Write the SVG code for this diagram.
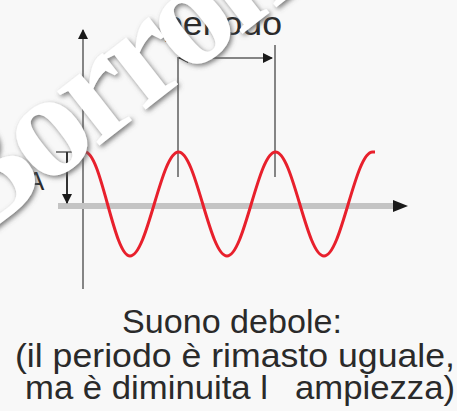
<svg xmlns="http://www.w3.org/2000/svg" width="457" height="411" viewBox="0 0 457 411">
<style>
.ax{stroke:#858585;stroke-width:2;fill:none}
.lbl{font-family:"Liberation Sans",Arial,sans-serif;fill:#2a2a2a}
.wm{font-family:"Liberation Serif","Times New Roman",serif;font-weight:bold;fill:#ffffff}
</style>
<defs>
<marker id="ah" viewBox="0 0 10 10" refX="9" refY="5" markerWidth="5" markerHeight="5" orient="auto-start-reverse" markerUnits="strokeWidth">
<path d="M0,0 L10,5 L0,10 z" fill="#1a1a1a"/>
</marker>
<filter id="sh" x="-20%" y="-20%" width="140%" height="140%">
<feGaussianBlur in="SourceAlpha" stdDeviation="2.5" result="b"/>
<feOffset in="b" dx="1.5" dy="1.5" result="o"/>
<feFlood flood-color="#606060" flood-opacity="0.85"/>
<feComposite in2="o" operator="in" result="s"/>
<feMerge><feMergeNode in="s"/><feMergeNode in="SourceGraphic"/></feMerge>
</filter>
</defs>
<rect width="457" height="411" fill="#f8f8f8"/>
<g id="connectors">
<line id="y-axis" class="ax" x1="83" y1="289" x2="83" y2="30" marker-end="url(#ah)"/>
<line id="x-axis" x1="58" y1="206" x2="400" y2="206" stroke="#c4c4c4" stroke-width="6"/>
<path d="M393,200 L408,206 L393,212 z" fill="#1a1a1a"/>
<line class="ax" x1="178" y1="57" x2="178" y2="177"/>
<line class="ax" x1="275" y1="45" x2="275" y2="177"/>
<line class="ax" x1="179" y1="58" x2="272" y2="58" marker-start="url(#ah)" marker-end="url(#ah)"/>
<line class="ax" x1="56" y1="152" x2="73" y2="152"/>
<line x1="67" y1="152" x2="67" y2="203" stroke="#333" stroke-width="2" marker-end="url(#ah)"/>
</g>
<g id="wave">
<path d="M85,152 C101.4,152 113.6,256 130,256 C147.6,256 160.9,152 178.5,152 C196.1,152 209.4,256 227,256 C244.6,256 257.9,152 275.5,152 C293.1,152 306.4,256 324,256 C341.6,256 354.9,152 372.5,152 L375,152" fill="none" stroke="#e8202c" stroke-width="3"/>
</g>
<g id="label-periodo"><text class="lbl" x="163" y="35" font-size="33" textLength="119" lengthAdjust="spacingAndGlyphs">periodo</text></g>
<g id="label-A"><text class="lbl" x="27" y="190" font-size="26">A</text></g>
<g id="caption">
<text class="lbl" x="122" y="333" font-size="33" textLength="220" lengthAdjust="spacingAndGlyphs">Suono debole:</text>
<text class="lbl" x="15" y="367" font-size="33" textLength="440" lengthAdjust="spacingAndGlyphs">(il periodo è rimasto uguale,</text>
<text class="lbl" y="399" font-size="33"><tspan x="25" textLength="243" lengthAdjust="spacingAndGlyphs">ma è diminuita l</tspan><tspan x="295" textLength="160" lengthAdjust="spacingAndGlyphs">ampiezza)</tspan></text>
</g>
<g id="watermark" filter="url(#sh)">
<text class="wm" x="0" y="0" font-size="150" letter-spacing="-8" transform="translate(-29,246) rotate(-38)">Borroni</text>
</g>
</svg>
